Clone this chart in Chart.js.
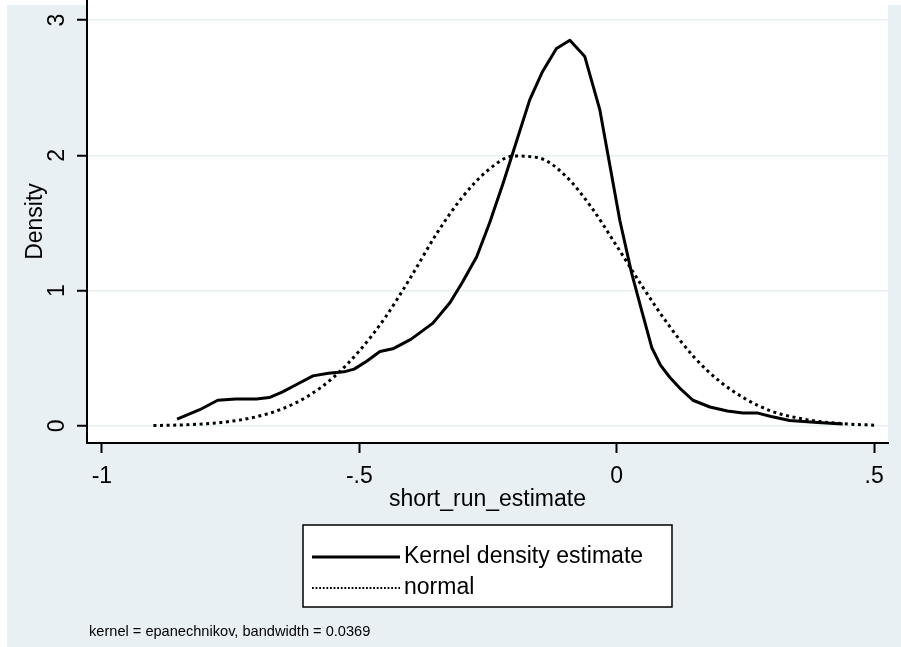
<!DOCTYPE html>
<html><head><meta charset="utf-8">
<script src="https://cdn.jsdelivr.net/npm/chart.js@4/dist/chart.umd.min.js"></script>
<style>html,body{margin:0;padding:0;background:#fff;overflow:hidden;} #wrap{width:901px;height:647px;position:relative;}</style>
</head><body><div id="wrap"><canvas id="c" width="901" height="647"></canvas></div>
<script>
// ---- data ----
const kernelX = [-0.854,-0.81,-0.775,-0.74,-0.70,-0.675,-0.65,-0.62,-0.59,-0.56,-0.53,-0.51,-0.485,-0.46,-0.435,-0.40,-0.357,-0.324,-0.30,-0.272,-0.247,-0.221,-0.20,-0.169,-0.144,-0.117,-0.091,-0.062,-0.033,0.006,0.029,0.048,0.068,0.085,0.103,0.125,0.148,0.181,0.215,0.245,0.274,0.30,0.336,0.39,0.439];
const kernelY = [0.05,0.12,0.19,0.20,0.20,0.21,0.25,0.31,0.37,0.39,0.40,0.42,0.48,0.55,0.57,0.64,0.76,0.91,1.06,1.25,1.50,1.79,2.04,2.41,2.62,2.79,2.85,2.73,2.34,1.52,1.13,0.86,0.58,0.45,0.36,0.27,0.19,0.14,0.11,0.095,0.095,0.07,0.04,0.025,0.015];
const normalX = [-0.90,-0.85,-0.80,-0.75,-0.70,-0.65,-0.60,-0.55,-0.50,-0.45,-0.40,-0.35,-0.30,-0.25,-0.20,-0.15,-0.10,-0.05,0.00,0.05,0.10,0.15,0.20,0.25,0.30,0.35,0.40,0.45,0.50];
const normalY = [0.003,0.007,0.016,0.034,0.068,0.126,0.22,0.36,0.555,0.80,1.10,1.42,1.69,1.89,1.995,1.98,1.85,1.62,1.33,1.03,0.75,0.51,0.33,0.20,0.11,0.06,0.03,0.014,0.006];
const xTicks = [-1, -0.5, 0, 0.5];
const xTickLabels = ['-1', '-.5', '0', '.5'];
const yTicks = [0, 1, 2, 3];
const yTickLabels = ['0', '1', '2', '3'];
const seriesLabels = ['Kernel density estimate', 'normal'];
const xTitle = 'short_run_estimate';
const yTitle = 'Density';
const noteText = 'kernel = epanechnikov, bandwidth = 0.0369';

const FONT = "'Liberation Sans', Arial, sans-serif";
const BG = '#E8F0F3';
const GRID = '#E6EFF1';

const toPts = (xs, ys) => xs.map((x, i) => ({x: x, y: ys[i]}));

const bgPlugin = {
  id: 'bg',
  beforeDraw(chart) {
    const {ctx, chartArea: ca, width, height} = chart;
    ctx.save();
    ctx.fillStyle = '#ffffff';
    ctx.fillRect(0, 0, width, height);
    ctx.fillStyle = BG;
    ctx.fillRect(7, 5, width - 7, height - 5);
    ctx.fillStyle = '#ffffff';
    ctx.fillRect(ca.left, 0, ca.right - ca.left, ca.bottom);
    ctx.restore();
  }
};

const legendNotePlugin = {
  id: 'legendNote',
  afterDraw(chart) {
    const {ctx, chartArea: ca} = chart;
    const ds = chart.data.datasets;
    ctx.save();
    const w = 369, h = 82;
    const cx = (ca.left + ca.right) / 2;
    const lx = cx - w / 2, ly = ca.bottom + 82;
    ctx.fillStyle = '#ffffff';
    ctx.fillRect(lx, ly, w, h);
    ctx.strokeStyle = '#000';
    ctx.lineWidth = 1.5;
    ctx.strokeRect(lx, ly, w, h);
    const rows = [ly + 32, ly + 63];
    ds.forEach((d, i) => {
      const y = rows[i];
      ctx.beginPath();
      ctx.strokeStyle = d.borderColor;
      if (i === 0) { ctx.lineWidth = 3; ctx.setLineDash([]); }
      else { ctx.lineWidth = 2.2; ctx.setLineDash([1.8, 1.8]); }
      ctx.moveTo(lx + 9, y);
      ctx.lineTo(lx + 97, y);
      ctx.stroke();
      ctx.setLineDash([]);
      ctx.fillStyle = '#000';
      ctx.font = '23px ' + FONT;
      ctx.textBaseline = 'middle';
      ctx.textAlign = 'left';
      ctx.fillText(d.label, lx + 101, y);
    });
    ctx.font = '14.6px ' + FONT;
    ctx.textBaseline = 'alphabetic';
    ctx.textAlign = 'left';
    ctx.fillStyle = '#000';
    ctx.fillText(noteText, 89, 636);
    ctx.restore();
  }
};

new Chart(document.getElementById('c'), {
  type: 'scatter',
  data: {
    datasets: [
      {label: seriesLabels[0], data: toPts(kernelX, kernelY), showLine: true, borderColor: '#000', borderWidth: 3, pointRadius: 0, tension: 0, borderJoinStyle: 'round'},
      {label: seriesLabels[1], data: toPts(normalX, normalY), showLine: true, borderColor: '#000', borderWidth: 3, pointRadius: 0, cubicInterpolationMode: 'monotone', borderDash: [3, 3.6], borderCapStyle: 'butt'}
    ]
  },
  options: {
    responsive: false,
    animation: false,
    devicePixelRatio: 1,
    layout: {autoPadding: false, padding: {left: 7, right: 13, top: 0, bottom: 0}},
    plugins: {legend: {display: false}, tooltip: {enabled: false}, title: {display: false}},
    scales: {
      x: {
        type: 'linear', position: 'bottom', min: -1.029, max: 0.527,
        afterBuildTicks: s => { s.ticks = xTicks.map(v => ({value: v})); },
        afterFit: s => { s.height = 204; s.paddingLeft = 0; s.paddingRight = 0; s.paddingTop = 0; s.paddingBottom = 0; },
        grid: {drawOnChartArea: false, drawTicks: true, tickLength: 10, tickColor: '#000', tickWidth: 2},
        border: {display: true, color: '#000', width: 2},
        ticks: {color: '#000', font: {family: FONT, size: 23}, padding: 10, minRotation: 0, maxRotation: 0, autoSkip: false,
          callback: (v, i) => xTickLabels[i]},
        title: {display: true, text: xTitle, color: '#000', font: {family: FONT, size: 23}, padding: {top: 0, bottom: 134}}
      },
      y: {
        type: 'linear', position: 'left', min: -0.126, max: 3.148,
        afterBuildTicks: s => { s.ticks = yTicks.map(v => ({value: v})); },
        afterFit: s => { s.width = 80; s.paddingLeft = 0; s.paddingRight = 0; s.paddingTop = 0; s.paddingBottom = 0; },
        grid: {drawOnChartArea: true, color: GRID, lineWidth: 1.5, drawTicks: true, tickLength: 10, tickColor: '#000', tickWidth: 2},
        border: {display: true, color: '#000', width: 2},
        ticks: {color: '#000', font: {family: FONT, size: 23}, padding: 13, minRotation: 90, maxRotation: 90, crossAlign: 'center', autoSkip: false,
          callback: (v, i) => yTickLabels[i]},
        title: {display: true, text: yTitle, color: '#000', font: {family: FONT, size: 23}, padding: {top: 15, bottom: 0}}
      }
    }
  },
  plugins: [bgPlugin, legendNotePlugin]
});
</script>
</body></html>
